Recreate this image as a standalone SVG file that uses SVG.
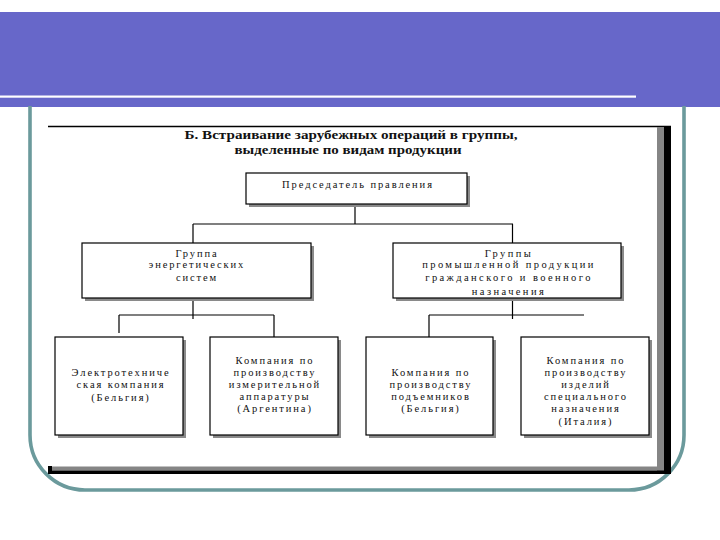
<svg xmlns="http://www.w3.org/2000/svg" width="720" height="540" viewBox="0 0 720 540">
<style>
.box{fill:#fff;stroke:#000;stroke-width:1.2}
.sh{fill:#8a8a8a}
.t{font-family:"Liberation Serif","DejaVu Serif",serif;font-size:10.5px;fill:#111;text-anchor:middle;letter-spacing:1.9px}
.w{letter-spacing:2.4px}
.ttl{font-family:"Liberation Serif","DejaVu Serif",serif;font-size:12.5px;font-weight:bold;fill:#111;text-anchor:middle}
.c{stroke:#000;stroke-width:1.2;fill:none}
</style>
<rect width="720" height="540" fill="#fff"/>
<g id="banner">
<rect x="0" y="12" width="720" height="95" fill="#6767c9"/>
<rect x="0" y="95.5" width="636" height="2.2" fill="#fff"/>
</g>
<path id="frame" d="M30,106 V435 A55,55 0 0 0 85,490 H629 A55,55 0 0 0 684,435 V106" fill="none" stroke="#6b9a9c" stroke-width="3.6"/>
<g id="figure">
<line x1="48" y1="126.5" x2="671" y2="126.5" stroke="#000" stroke-width="1.5"/>
<rect x="657" y="127" width="7" height="344" fill="#858585"/>
<rect x="664" y="127" width="7" height="347" fill="#000"/>
<rect x="48" y="466.5" width="616" height="4" fill="#858585"/>
<rect x="48" y="470.5" width="623" height="3.5" fill="#000"/>
<rect x="48" y="466" width="4" height="8" fill="#000"/>
</g>
<g id="title">
<text class="ttl" x="351" y="139" textLength="333" lengthAdjust="spacingAndGlyphs">Б. Встраивание зарубежных операций в группы,</text>
<text class="ttl" x="348" y="154" textLength="227" lengthAdjust="spacingAndGlyphs">выделенные по видам продукции</text>
</g>
<g id="connectors">
<path class="c" d="M355,204 V224 M193,224 H513 M193,224 V243 M512.5,224 V243"/>
<path class="c" d="M193,298 V319 M119,315 H274 M119,315 V333 M274,315 V337"/>
<path class="c" d="M512.5,298 V319 M429,315 H584 M429,315 V337"/>
</g>
<g id="chairman">
<rect class="sh" x="249" y="176" width="221" height="31"/>
<rect class="box" x="246" y="173" width="221" height="31"/>
<text class="t" x="358" y="188">Председатель правления</text>
</g>
<g id="energy-group">
<rect class="sh" x="85" y="246" width="229" height="55"/>
<rect class="box" x="82" y="243" width="229" height="55"/>
<text class="t" x="197" y="256.5">Группа</text>
<text class="t" x="197" y="268">энергетических</text>
<text class="t" x="197" y="280.5">систем</text>
</g>
<g id="industrial-group">
<rect class="sh" x="396" y="246" width="228" height="55"/>
<rect class="box" x="393" y="243" width="228" height="55"/>
<text class="t w" x="509" y="257">Группы</text>
<text class="t w" x="509" y="268">промышленной продукции</text>
<text class="t w" x="509" y="280.5">гражданского и военного</text>
<text class="t w" x="509" y="294.5">назначения</text>
</g>
<g id="electro-company">
<rect class="sh" x="58" y="340" width="128" height="98"/>
<rect class="box" x="55" y="337" width="128" height="98"/>
<text class="t" x="121" y="375.5">Электротехниче</text>
<text class="t" x="121" y="387.5">ская компания</text>
<text class="t" x="121" y="400.5">(Бельгия)</text>
</g>
<g id="measuring-company">
<rect class="sh" x="213" y="340" width="128" height="98"/>
<rect class="box" x="210" y="337" width="128" height="98"/>
<text class="t" x="275" y="364">Компания по</text>
<text class="t" x="275" y="376">производству</text>
<text class="t" x="275" y="388">измерительной</text>
<text class="t" x="275" y="400">аппаратуры</text>
<text class="t" x="275" y="412">(Аргентина)</text>
</g>
<g id="lift-company">
<rect class="sh" x="369" y="340" width="127" height="98"/>
<rect class="box" x="366" y="337" width="127" height="98"/>
<text class="t" x="431" y="376">Компания по</text>
<text class="t" x="431" y="388">производству</text>
<text class="t" x="431" y="400">подъемников</text>
<text class="t" x="431" y="412">(Бельгия)</text>
</g>
<g id="special-company">
<rect class="sh" x="524" y="340" width="128" height="98"/>
<rect class="box" x="521" y="337" width="128" height="98"/>
<text class="t" x="586" y="364">Компания по</text>
<text class="t" x="586" y="376">производству</text>
<text class="t" x="586" y="388">изделий</text>
<text class="t" x="586" y="400">специального</text>
<text class="t" x="586" y="412">назначения</text>
<text class="t" x="586" y="424.5">(Италия)</text>
</g>
</svg>
